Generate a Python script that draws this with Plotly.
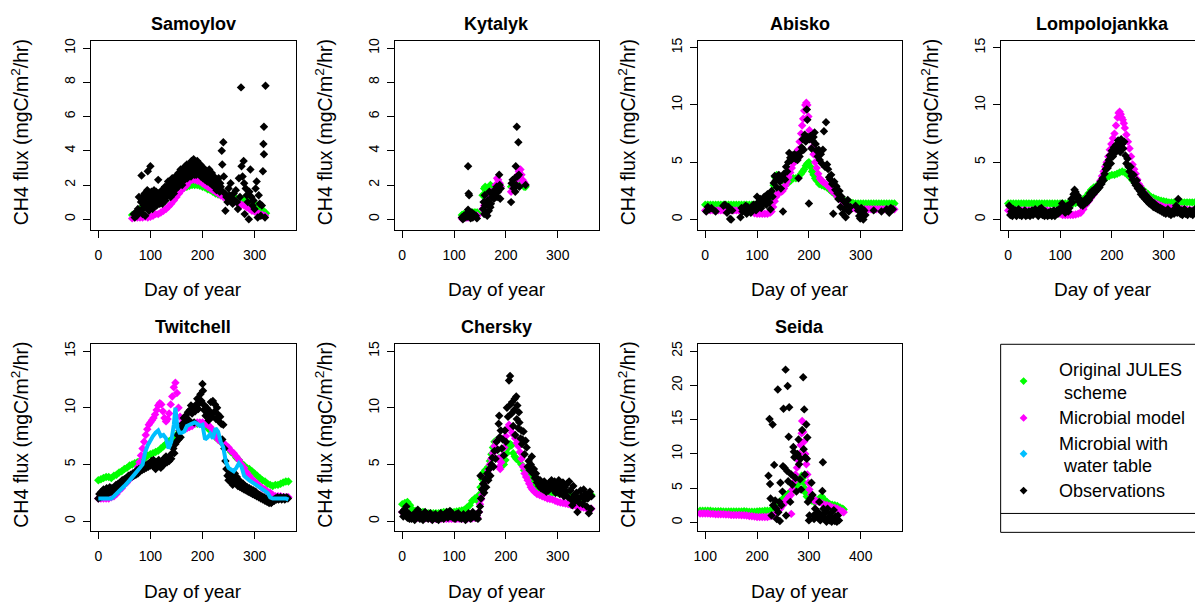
import plotly.graph_objects as go

W, H = 1195, 602
FONT = "Liberation Sans, Arial, Helvetica, sans-serif"
GREEN = "#00FF00"
MAG = "#FF00FF"
BLUE = "#00BFFF"
BLACK = "#000000"

# ---------------- data (day of year, CH4 flux) ----------------
sam_green = [(65,0.25),(70,0.3),(75,0.45),(80,0.6),(85,0.7),(90,0.8),(95,0.9),(100,1.0),(105,1.05),(110,1.1),(115,1.15),(120,1.2),(125,1.3),(130,1.4),(135,1.5),(140,1.55),(145,1.6),(150,1.65),(155,1.7),(160,1.8),(165,1.85),(170,1.9),(175,1.95),(180,2.0),(185,2.0),(190,2.0),(195,1.95),(200,1.9),(205,1.85),(210,1.75),(215,1.7),(220,1.6),(225,1.5),(230,1.45),(235,1.4),(240,1.35),(245,1.3),(250,1.3),(255,1.25),(260,1.2),(265,1.2),(270,1.2),(275,1.2),(280,1.15),(285,1.1),(290,1.05),(295,1.0),(300,0.9),(305,0.8),(310,0.7),(315,0.55),(320,0.4),(322,0.35)]
sam_mag = [(65,0.05),(70,0.1),(75,0.1),(80,0.1),(85,0.1),(90,0.15),(95,0.1),(100,0.15),(105,0.2),(110,0.3),(115,0.3),(120,0.4),(125,0.5),(130,0.6),(135,0.75),(140,0.9),(145,1.1),(150,1.3),(155,1.5),(160,1.7),(165,1.85),(170,2.0),(175,2.2),(180,2.3),(185,2.3),(190,2.25),(195,2.2),(200,2.1),(205,2.0),(210,1.9),(215,1.8),(220,1.7),(225,1.6),(230,1.5),(235,1.4),(240,1.3),(245,1.25),(250,1.2),(255,1.1),(260,1.05),(265,1.0),(270,0.9),(275,0.85),(280,0.8),(285,0.7),(290,0.6),(295,0.5),(300,0.45),(305,0.4),(310,0.3),(315,0.25),(320,0.2)]
sam_obs = [(68,0.3),(70,0.1),(72,0.4),(74,0.2),(76,0.6),(78,1.3),(80,0.5),(82,1.0),(83,2.55),(84,1.1),(85,0.3),(86,0.6),(87,0.8),(88,1.4),(89,1.5),(90,0.2),(91,1.2),(92,0.9),(93,0.7),(94,1.7),(95,2.8),(96,1.6),(97,0.5),(98,1.3),(99,1.0),(100,3.1),(101,0.8),(102,1.6),(103,1.4),(104,0.6),(105,1.0),(106,1.2),(107,1.7),(108,0.9),(109,1.1),(110,1.4),(111,1.6),(112,0.8),(113,1.0),(114,1.3),(115,2.3),(116,1.5),(117,1.2),(118,0.9),(119,1.0),(120,1.3),(121,1.5),(122,1.7),(123,0.9),(124,1.1),(125,1.7),(126,1.5),(127,1.3),(128,1.9),(129,1.1),(130,1.3),(131,1.8),(132,1.6),(133,1.4),(134,2.2),(135,2.0),(136,1.5),(137,1.6),(138,1.9),(139,1.3),(140,1.6),(141,2.1),(142,2.4),(143,1.8),(144,1.9),(145,1.5),(146,2.0),(147,2.2),(148,2.5),(149,2.0),(150,1.8),(151,2.4),(152,2.2),(153,1.9),(154,2.7),(155,2.6),(156,2.1),(157,2.2),(158,2.9),(159,2.4),(160,2.3),(161,2.0),(162,2.6),(163,2.8),(164,3.0),(165,2.5),(166,2.3),(167,3.1),(168,2.9),(169,2.7),(170,3.2),(171,2.4),(172,2.6),(173,3.0),(174,2.8),(175,2.6),(176,3.2),(177,2.9),(178,2.5),(179,3.4),(180,3.0),(181,2.8),(182,3.3),(183,3.5),(184,2.8),(185,2.6),(186,3.1),(187,3.3),(188,2.6),(189,2.9),(190,3.4),(191,3.2),(192,2.9),(193,2.7),(194,2.6),(195,3.0),(196,3.2),(197,2.5),(198,2.9),(199,2.8),(200,2.6),(201,2.4),(202,3.0),(203,2.7),(204,2.5),(205,2.3),(206,2.8),(207,2.6),(208,2.4),(209,2.2),(210,2.7),(211,2.5),(212,2.3),(213,2.9),(214,2.6),(215,2.1),(216,2.2),(217,2.4),(218,2.7),(219,2.0),(220,2.1),(221,2.3),(222,2.5),(223,1.9),(224,2.0),(225,2.1),(226,2.3),(227,1.7),(228,1.9),(229,2.0),(230,2.2),(231,2.4),(232,1.8),(233,1.6),(234,2.1),(235,1.9),(236,1.7),(237,4.0),(238,3.2),(240,4.5),(241,2.5),(243,1.5),(244,0.5),(246,1.3),(248,1.0),(250,1.8),(252,1.4),(254,2.1),(256,1.2),(258,0.9),(260,1.5),(262,1.1),(264,1.7),(266,1.0),(268,0.6),(270,2.4),(272,1.3),(274,7.7),(275,3.1),(277,2.5),(279,3.4),(280,2.1),(281,0.3),(283,1.8),(285,1.4),(287,1.0),(289,0.0),(290,1.6),(292,2.9),(294,1.3),(296,0.8),(298,1.1),(300,0.6),(302,1.8),(304,2.2),(306,0.1),(308,1.4),(310,0.9),(312,0.2),(314,0.8),(316,2.8),(317,4.4),(318,5.4),(318,3.8),(320,0.1),(321,7.8)]

kyt_green = [(115,0.25),(118,0.3),(121,0.3),(124,0.3),(127,0.35),(130,0.35),(133,0.35),(136,0.4),(139,0.4),(142,0.4),(145,0.4),(155,1.4),(158,1.8),(160,1.9),(163,1.7),(165,1.6),(168,1.9),(170,2.0),(173,1.9),(175,1.8),(178,1.7),(180,1.6),(183,1.8),(185,1.9),(188,1.9),(190,1.9),(210,1.9),(213,2.0),(215,2.0),(218,2.1),(220,2.1),(223,2.3),(225,2.4),(228,2.3),(230,2.2),(233,2.0),(235,1.9),(238,1.9)]
kyt_mag = [(115,0.05),(118,0.1),(121,0.1),(124,0.1),(127,0.1),(130,0.15),(133,0.15),(136,0.15),(139,0.2),(142,0.2),(145,0.2),(155,0.6),(158,0.8),(160,0.9),(163,1.1),(165,1.2),(168,1.4),(170,1.6),(173,1.5),(175,1.4),(178,1.7),(180,2.0),(183,2.4),(185,2.3),(188,2.1),(190,1.9),(210,1.6),(213,1.8),(215,2.0),(218,2.2),(220,2.4),(223,2.6),(225,2.8),(228,2.9),(230,2.6),(232,2.3),(234,2.2),(236,2.1)]
kyt_obs = [(115,0.1),(117,0.0),(119,0.2),(121,0.1),(123,0.3),(125,0.15),(127,3.1),(128,1.5),(129,1.4),(127,0.55),(130,0.2),(132,0.05),(134,0.4),(136,0.1),(138,0.3),(142,0.2),(144,0.05),(156,0.6),(157,1.0),(158,0.3),(159,1.4),(160,0.8),(162,0.4),(164,0.2),(165,1.1),(167,0.5),(168,1.6),(170,0.7),(171,0.9),(173,1.3),(175,1.5),(177,1.2),(178,1.7),(180,1.4),(182,1.9),(183,1.3),(185,1.6),(187,2.6),(188,2.0),(189,1.2),(190,1.8),(210,1.0),(211,2.1),(213,2.3),(215,1.8),(217,2.4),(218,1.6),(219,3.1),(220,2.0),(221,5.4),(222,2.5),(224,4.5),(225,2.6),(226,1.9),(238,2.0)]

abi_green = [(0,1.3),(5,1.3),(10,1.3),(15,1.3),(20,1.3),(25,1.3),(30,1.3),(35,1.3),(40,1.3),(45,1.3),(50,1.3),(55,1.3),(60,1.3),(65,1.3),(70,1.3),(75,1.3),(80,1.3),(85,1.3),(90,1.3),(95,1.3),(100,1.35),(105,1.35),(110,1.4),(115,1.45),(120,1.5),(123,1.6),(126,1.9),(129,2.4),(132,3.0),(135,3.7),(138,3.9),(141,3.8),(144,3.6),(147,3.5),(150,3.4),(155,3.3),(160,3.2),(165,3.4),(170,3.6),(175,3.6),(180,3.7),(185,4.0),(188,4.2),(191,4.4),(194,4.7),(197,4.9),(200,5.0),(203,4.6),(206,4.2),(209,3.9),(212,3.6),(215,3.4),(220,3.1),(225,3.0),(230,2.9),(235,2.8),(240,2.6),(245,2.4),(250,2.2),(255,2.0),(260,1.9),(265,1.7),(270,1.6),(275,1.5),(280,1.5),(285,1.45),(290,1.4),(295,1.4),(300,1.4),(305,1.4),(310,1.4),(315,1.4),(320,1.4),(325,1.4),(330,1.4),(335,1.4),(340,1.4),(345,1.4),(350,1.4),(355,1.4),(360,1.4),(365,1.4)]
abi_mag = [(0,0.8),(5,0.8),(10,0.8),(15,0.8),(20,0.8),(25,0.8),(30,0.8),(35,0.8),(40,0.8),(45,0.8),(50,0.8),(55,0.8),(60,0.8),(65,0.8),(70,0.8),(75,0.8),(80,0.8),(85,0.8),(90,0.75),(95,0.55),(100,0.5),(105,0.5),(110,0.5),(115,0.5),(120,0.5),(125,0.6),(128,0.7),(131,1.1),(134,1.6),(137,2.0),(140,2.3),(143,2.4),(146,2.4),(149,2.5),(152,2.7),(155,3.0),(158,3.3),(161,3.7),(164,4.1),(167,4.5),(170,4.9),(173,5.3),(176,5.7),(179,6.1),(182,6.8),(185,7.5),(187,8.2),(189,8.8),(191,9.5),(193,10.0),(195,10.2),(197,10.0),(199,9.0),(201,7.8),(203,7.0),(206,6.3),(209,5.7),(212,5.0),(215,4.5),(218,4.0),(221,3.6),(224,3.4),(227,3.3),(230,3.2),(235,3.0),(240,2.8),(245,2.5),(250,2.3),(255,2.0),(260,1.8),(265,1.6),(270,1.4),(275,1.2),(280,1.1),(285,1.0),(290,0.95),(295,0.9),(300,0.9),(305,0.9),(310,0.9),(315,0.9),(320,0.9),(325,0.9),(330,0.9),(335,0.9),(340,0.9),(345,0.9),(350,0.9),(355,0.9),(360,0.9),(365,0.9)]
abi_obs = [(2,0.7),(5,1.1),(8,0.9),(12,1.0),(20,0.7),(35,1.2),(38,1.3),(42,0.6),(45,1.1),(48,0.05),(50,0.0),(52,0.8),(68,0.2),(70,1.0),(72,0.7),(75,0.9),(78,1.2),(80,0.5),(82,1.1),(85,0.9),(88,0.6),(90,1.0),(93,1.3),(96,1.2),(98,0.8),(100,2.0),(102,1.5),(104,1.2),(106,1.8),(108,1.0),(110,1.6),(112,1.4),(114,2.0),(116,1.7),(118,1.3),(120,2.2),(122,1.9),(124,1.5),(126,0.9),(128,2.5),(130,2.0),(132,3.2),(134,3.8),(136,3.4),(138,2.8),(140,3.6),(142,3.9),(144,3.3),(146,2.7),(148,3.7),(150,0.7),(152,4.0),(154,3.5),(156,4.6),(158,4.2),(160,5.0),(162,5.8),(164,5.4),(166,5.2),(168,5.6),(170,5.4),(172,5.7),(174,5.3),(176,5.6),(178,5.2),(180,3.6),(182,5.5),(184,5.9),(186,6.3),(188,7.0),(190,6.1),(192,7.4),(194,6.8),(196,9.6),(197,8.7),(198,7.2),(200,1.4),(201,7.0),(203,7.3),(205,6.2),(207,6.9),(209,7.2),(211,7.6),(213,6.6),(215,6.0),(217,5.5),(219,6.1),(221,5.2),(223,5.7),(225,4.9),(227,6.1),(229,7.7),(231,4.6),(233,8.5),(235,4.8),(237,4.4),(239,3.7),(241,3.5),(243,3.9),(245,3.1),(247,0.5),(249,3.3),(251,2.6),(253,2.9),(255,2.3),(257,1.8),(259,2.5),(261,1.1),(263,2.0),(265,0.5),(267,1.6),(269,0.9),(271,0.2),(273,1.3),(275,1.7),(277,0.7),(280,1.1),(290,1.2),(295,0.8),(297,0.3),(299,0.1),(301,1.0),(303,0.6),(305,0.0),(307,0.8),(309,0.4),(325,0.8),(340,0.7),(350,0.9),(355,0.6),(358,1.0),(362,0.9)]

lom_green = [(0,1.4),(5,1.4),(10,1.4),(15,1.4),(20,1.4),(25,1.4),(30,1.4),(35,1.4),(40,1.4),(45,1.4),(50,1.4),(55,1.4),(60,1.4),(65,1.4),(70,1.4),(75,1.4),(80,1.4),(85,1.4),(90,1.4),(95,1.4),(100,1.4),(105,1.4),(110,1.4),(115,1.4),(120,1.4),(125,1.4),(130,1.45),(135,1.5),(140,1.6),(145,1.8),(150,2.0),(155,2.3),(160,2.6),(165,2.8),(170,2.9),(175,3.1),(180,3.3),(185,3.5),(190,3.7),(195,3.8),(200,3.9),(205,3.9),(210,4.0),(215,4.1),(220,4.2),(225,4.1),(230,3.9),(235,3.7),(240,3.4),(245,3.2),(250,3.0),(255,2.8),(260,2.6),(265,2.4),(270,2.2),(275,2.0),(280,1.9),(285,1.8),(290,1.7),(295,1.65),(300,1.6),(305,1.55),(310,1.5),(315,1.5),(320,1.5),(325,1.5),(330,1.5),(335,1.5),(340,1.5),(345,1.5),(350,1.5),(355,1.5),(360,1.5),(365,1.5)]
lom_mag = [(0,0.8),(5,0.8),(10,0.8),(15,0.8),(20,0.8),(25,0.8),(30,0.8),(35,0.8),(40,0.8),(45,0.8),(50,0.8),(55,0.8),(60,0.8),(65,0.8),(70,0.8),(75,0.8),(80,0.75),(85,0.7),(90,0.7),(95,0.6),(100,0.5),(105,0.4),(110,0.4),(115,0.4),(120,0.4),(125,0.4),(130,0.45),(135,0.5),(140,0.6),(145,0.9),(150,1.3),(155,1.6),(160,1.9),(165,2.2),(170,2.6),(175,3.0),(178,3.4),(181,3.8),(184,4.2),(187,4.6),(190,5.0),(193,5.5),(196,6.1),(199,6.6),(202,7.1),(205,7.5),(208,8.2),(211,8.9),(213,9.3),(215,9.4),(217,9.2),(219,8.9),(221,8.7),(223,8.4),(225,8.0),(228,7.4),(231,6.8),(234,6.2),(237,5.5),(240,4.8),(243,4.4),(246,4.0),(249,3.5),(252,3.1),(255,2.9),(260,2.5),(265,2.2),(270,1.9),(275,1.7),(280,1.5),(285,1.4),(290,1.3),(295,1.2),(300,1.1),(305,1.05),(310,1.05),(315,1.0),(320,1.0),(325,0.95),(330,0.95),(335,0.9),(340,0.9),(345,0.85),(350,0.85),(355,0.8),(360,0.8),(365,0.8)]
lom_obs = [(2,1.2),(4,0.4),(6,0.7),(8,0.3),(10,0.9),(12,0.5),(14,0.8),(16,0.3),(18,0.6),(20,0.9),(22,0.4),(24,0.7),(26,0.3),(28,0.6),(30,0.5),(32,0.8),(34,0.3),(36,0.6),(38,0.4),(40,0.7),(42,0.3),(44,0.5),(46,0.8),(48,0.4),(50,0.6),(52,0.9),(54,0.5),(56,0.7),(58,0.3),(60,0.9),(62,0.6),(64,1.0),(66,0.4),(68,0.6),(70,0.3),(72,0.7),(74,0.5),(76,0.3),(78,0.6),(80,0.4),(82,0.7),(84,0.3),(86,0.5),(88,0.8),(90,0.3),(92,0.6),(94,0.8),(96,0.5),(98,0.9),(100,0.7),(102,1.0),(104,1.4),(106,0.8),(108,1.1),(110,0.6),(112,0.9),(114,1.2),(116,0.7),(118,1.0),(120,1.4),(122,1.8),(124,1.5),(126,2.2),(128,2.6),(130,2.4),(132,1.9),(134,2.1),(136,1.6),(138,1.8),(140,1.3),(142,1.5),(144,1.2),(146,1.6),(148,1.4),(150,1.8),(152,1.5),(154,2.0),(156,1.7),(158,2.3),(160,2.0),(162,2.5),(164,2.2),(166,2.6),(168,2.4),(170,2.8),(172,2.6),(174,3.0),(176,2.8),(178,3.3),(180,3.1),(182,3.6),(184,3.4),(186,4.0),(188,4.4),(190,4.8),(192,4.5),(194,5.2),(196,5.6),(198,4.9),(200,6.0),(202,5.5),(204,6.3),(206,5.8),(208,6.5),(210,6.1),(212,6.9),(214,6.4),(216,5.9),(218,7.0),(220,6.6),(222,6.2),(224,6.8),(226,5.6),(228,4.9),(230,5.3),(232,4.6),(234,4.2),(236,4.6),(238,3.8),(240,3.5),(242,3.9),(244,3.2),(246,3.0),(248,3.4),(250,2.7),(252,2.9),(254,2.5),(256,2.2),(258,2.6),(260,2.0),(262,2.3),(264,1.8),(266,2.1),(268,1.6),(270,1.9),(272,1.4),(274,1.7),(276,1.3),(278,1.5),(280,1.1),(282,1.4),(284,1.0),(286,1.2),(288,0.9),(290,1.1),(292,0.8),(294,1.0),(296,0.7),(298,0.9),(300,0.6),(302,0.8),(304,0.5),(306,0.7),(308,0.9),(310,0.5),(312,0.7),(314,0.4),(316,0.6),(318,0.8),(320,0.5),(322,0.7),(324,1.2),(326,0.6),(328,1.8),(330,0.9),(332,0.5),(334,0.8),(336,0.4),(338,0.7),(340,0.9),(342,0.5),(344,0.7),(346,0.4),(348,0.6),(350,0.8),(352,0.5),(354,0.7),(356,0.4),(358,0.6),(360,0.9),(362,0.5),(364,0.7)]

twi_green = [(0,3.6),(5,3.7),(10,3.8),(15,3.9),(20,3.9),(25,3.8),(30,4.0),(35,4.1),(40,4.3),(45,4.4),(50,4.6),(55,4.7),(60,4.9),(65,5.0),(70,5.1),(75,5.2),(80,5.3),(85,5.4),(90,5.6),(95,5.8),(100,5.9),(105,6.0),(110,6.1),(115,6.2),(120,6.4),(125,6.6),(130,6.8),(135,7.0),(140,7.2),(145,7.4),(150,7.6),(155,7.8),(160,8.0),(165,8.2),(170,8.4),(175,8.5),(180,8.6),(185,8.6),(190,8.6),(195,8.6),(200,8.5),(205,8.4),(210,8.2),(215,8.0),(220,7.7),(225,7.4),(230,7.2),(235,7.0),(240,6.8),(245,6.6),(250,6.4),(255,6.1),(260,5.9),(265,5.6),(270,5.4),(275,5.1),(280,4.9),(285,4.7),(290,4.6),(295,4.4),(300,4.2),(305,4.0),(310,3.8),(315,3.6),(320,3.5),(325,3.3),(330,3.2),(335,3.1),(340,3.2),(345,3.2),(350,3.3),(355,3.4),(360,3.5),(365,3.5)]
twi_mag = [(0,2.0),(5,2.0),(10,2.0),(15,2.0),(20,2.0),(25,2.1),(30,2.2),(35,2.4),(40,2.7),(45,2.9),(50,3.2),(55,3.4),(60,3.7),(65,3.9),(70,4.2),(73,4.4),(76,4.8),(79,5.2),(82,5.8),(85,6.4),(88,7.0),(91,7.6),(94,8.1),(97,8.5),(100,8.7),(103,8.9),(106,9.1),(109,9.4),(112,9.8),(115,10.2),(118,10.4),(121,10.3),(124,9.7),(127,9.1),(130,8.8),(133,9.0),(136,9.5),(139,10.3),(142,11.0),(145,11.8),(148,12.2),(151,11.3),(154,10.0),(157,9.2),(160,8.6),(165,8.3),(170,8.2),(175,8.3),(180,8.4),(185,8.6),(190,8.7),(195,8.7),(200,8.7),(205,8.6),(210,8.5),(215,8.3),(220,8.0),(225,7.6),(230,7.2),(235,7.0),(240,6.9),(245,6.7),(250,6.5),(255,6.2),(260,6.0),(265,5.7),(270,5.4),(275,5.0),(280,4.7),(285,4.3),(290,4.0),(295,3.7),(300,3.5),(305,3.3),(310,3.1),(315,2.9),(320,2.8),(325,2.6),(330,2.5),(335,2.3),(340,2.2),(345,2.2),(350,2.2),(355,2.1),(360,2.1),(365,2.1)]
twi_blue = [(0,2.0),(10,2.0),(20,2.0),(25,2.0),(30,2.2),(40,2.6),(50,3.1),(60,3.6),(70,4.1),(80,4.7),(85,5.0),(90,6.1),(95,6.7),(100,7.2),(105,7.5),(110,7.8),(115,8.0),(120,7.5),(125,7.6),(130,7.3),(135,6.4),(140,7.0),(145,8.5),(148,10.0),(152,8.2),(156,7.8),(160,7.8),(165,7.9),(170,8.4),(175,8.5),(180,8.6),(185,8.7),(190,8.6),(195,8.4),(200,8.5),(205,7.2),(210,7.4),(215,7.7),(220,7.3),(225,8.2),(230,7.9),(235,7.0),(240,6.5),(245,5.2),(250,4.7),(255,4.5),(260,4.4),(265,4.7),(270,5.1),(275,4.8),(280,4.0),(290,3.6),(300,3.3),(310,3.0),(320,2.6),(325,2.5),(330,2.1),(335,2.0),(340,2.0),(350,2.0),(360,2.0),(365,1.9)]
twi_obs = [(0,2.0),(2,2.4),(4,2.1),(6,2.6),(8,2.2),(10,2.8),(12,2.3),(14,2.5),(16,2.9),(18,2.4),(20,2.7),(22,3.0),(24,2.6),(26,2.9),(28,2.5),(30,2.8),(32,3.0),(34,3.2),(36,2.9),(38,3.3),(40,3.1),(42,3.4),(44,3.2),(46,3.6),(48,3.3),(50,3.7),(52,3.5),(54,3.8),(56,3.6),(58,4.0),(60,3.8),(62,4.1),(64,3.9),(66,4.2),(68,4.0),(70,4.3),(72,4.1),(74,4.5),(76,4.2),(78,4.6),(80,4.4),(82,4.7),(84,4.5),(86,4.8),(88,4.6),(90,4.9),(92,4.7),(94,5.0),(96,4.8),(98,5.1),(100,4.9),(102,5.3),(104,4.9),(106,5.4),(108,5.0),(110,4.6),(112,5.2),(114,4.8),(116,5.4),(118,5.0),(120,4.7),(122,5.3),(124,4.9),(126,5.5),(128,5.1),(130,5.7),(132,5.2),(134,5.6),(136,5.3),(138,5.8),(140,5.5),(142,6.0),(144,6.4),(146,6.0),(148,6.8),(150,7.0),(152,7.6),(154,7.2),(156,8.0),(158,7.4),(160,8.3),(162,8.6),(164,9.1),(166,8.5),(168,9.3),(170,8.8),(172,9.6),(174,8.9),(176,9.8),(178,10.2),(180,9.5),(182,10.0),(184,8.7),(186,9.7),(188,10.3),(190,10.8),(192,9.9),(194,10.4),(196,11.2),(198,10.6),(200,12.1),(201,11.5),(203,9.8),(204,10.2),(206,9.3),(208,10.0),(210,9.5),(212,8.9),(214,9.7),(216,10.5),(218,9.2),(220,10.6),(222,9.6),(224,10.3),(226,9.0),(228,10.0),(230,9.4),(232,8.8),(234,9.2),(236,8.6),(238,7.2),(240,8.5),(242,6.4),(244,5.3),(246,4.6),(248,4.0),(250,3.6),(252,4.2),(254,3.5),(256,3.9),(258,3.2),(260,3.7),(262,4.2),(264,3.4),(266,3.9),(268,3.1),(270,3.6),(272,3.0),(274,3.4),(276,2.9),(278,3.3),(280,2.8),(282,3.1),(284,2.7),(286,3.0),(288,2.6),(290,2.9),(292,2.5),(294,2.8),(296,2.4),(298,2.7),(300,2.3),(302,2.6),(304,2.2),(306,2.4),(308,2.1),(310,2.3),(312,2.0),(314,2.2),(316,1.9),(318,2.1),(320,1.8),(322,2.0),(324,1.7),(326,1.9),(328,1.6),(330,1.8),(332,1.6),(334,1.7),(336,1.9),(338,1.8),(340,2.0),(342,1.9),(344,2.1),(346,1.9),(348,2.0),(350,2.1),(352,1.9),(354,2.0),(356,2.1),(358,1.9),(360,2.0),(362,2.1),(364,2.0)]

che_green = [(0,1.5),(5,1.6),(10,1.7),(15,1.4),(20,1.0),(25,0.9),(30,0.8),(35,0.8),(40,0.8),(45,0.75),(50,0.7),(55,0.7),(60,0.7),(65,0.7),(70,0.7),(75,0.75),(80,0.8),(85,0.8),(90,0.8),(95,0.8),(100,0.8),(105,0.85),(110,0.9),(115,0.95),(120,1.0),(125,1.2),(130,1.4),(135,1.8),(140,2.0),(145,1.8),(148,2.3),(151,3.0),(154,3.7),(157,4.3),(160,4.5),(163,4.5),(166,4.8),(169,5.3),(172,5.9),(175,6.5),(178,7.0),(181,7.1),(184,6.3),(187,5.6),(190,5.3),(193,5.1),(196,5.0),(199,5.4),(202,6.0),(205,6.5),(208,6.8),(211,6.7),(214,6.0),(217,5.7),(220,5.5),(225,5.3),(230,5.0),(235,4.5),(240,4.3),(245,4.0),(250,3.5),(255,3.2),(260,3.0),(265,2.8),(270,2.7),(275,2.65),(280,2.6),(285,2.55),(290,2.5),(295,2.5),(300,2.5),(305,2.45),(310,2.4),(315,2.35),(320,2.3),(325,2.25),(330,2.2),(335,2.1),(340,2.0),(345,2.0),(350,2.0),(355,2.1),(360,2.2),(365,2.3)]
che_mag = [(0,0.8),(5,0.7),(10,0.6),(15,0.5),(20,0.4),(25,0.3),(30,0.3),(35,0.3),(40,0.25),(45,0.25),(50,0.25),(55,0.2),(60,0.2),(65,0.2),(70,0.2),(75,0.2),(80,0.2),(85,0.2),(90,0.2),(95,0.2),(100,0.2),(105,0.2),(110,0.2),(115,0.2),(120,0.2),(125,0.2),(130,0.25),(135,0.25),(140,0.3),(145,0.3),(148,0.8),(150,1.5),(152,1.9),(154,2.3),(156,2.7),(158,3.1),(160,3.5),(163,4.0),(166,4.5),(169,5.0),(172,5.5),(175,6.0),(178,6.6),(181,7.0),(183,6.3),(185,5.5),(187,4.8),(189,4.6),(191,5.2),(194,5.8),(197,6.5),(200,7.5),(203,8.2),(206,8.5),(209,8.2),(212,7.8),(215,7.6),(218,7.3),(221,6.9),(224,6.6),(227,6.1),(230,5.5),(233,4.8),(236,4.2),(239,3.9),(242,3.6),(245,3.3),(248,3.0),(251,2.8),(255,2.6),(260,2.4),(265,2.3),(270,2.2),(275,2.1),(280,2.0),(285,1.95),(290,1.9),(295,1.8),(300,1.7),(305,1.65),(310,1.6),(315,1.55),(320,1.5),(325,1.45),(330,1.4),(335,1.35),(340,1.3),(345,1.25),(350,1.2),(355,1.15),(360,1.1),(365,1.1)]
che_obs = [(0,0.8),(2,0.4),(4,1.0),(6,0.6),(8,1.3),(10,0.3),(12,0.7),(14,0.2),(16,0.5),(18,0.2),(20,0.4),(22,0.6),(24,0.1),(26,0.3),(28,0.8),(30,1.0),(32,0.4),(34,0.2),(36,0.6),(38,0.3),(40,0.1),(42,0.5),(44,0.8),(46,0.3),(48,0.6),(50,0.2),(52,0.4),(54,0.7),(56,0.3),(58,0.1),(60,0.5),(62,0.3),(64,0.6),(66,0.2),(68,0.4),(70,0.1),(72,0.5),(74,0.7),(76,0.3),(78,0.5),(80,0.2),(82,0.6),(84,0.4),(86,0.8),(88,0.3),(90,0.6),(92,0.9),(94,0.4),(96,0.7),(98,0.3),(100,0.5),(102,0.2),(104,0.6),(106,0.4),(108,0.7),(110,0.3),(112,0.5),(114,0.2),(116,0.4),(118,0.6),(120,0.3),(122,0.1),(124,0.5),(126,0.3),(128,0.7),(130,0.4),(132,0.2),(134,0.5),(136,0.8),(138,0.4),(140,0.6),(142,0.3),(144,0.5),(146,0.2),(148,0.8),(150,1.3),(151,4.0),(152,2.0),(154,2.8),(156,3.3),(158,2.5),(160,3.7),(162,3.0),(164,4.2),(166,3.6),(168,4.6),(170,4.0),(172,5.0),(174,5.6),(176,4.8),(178,6.2),(180,5.5),(182,7.0),(184,6.3),(186,8.6),(187,9.3),(188,7.4),(190,8.0),(192,6.4),(194,7.2),(196,5.8),(198,8.0),(200,7.0),(202,10.0),(204,9.2),(206,12.4),(208,12.8),(209,10.3),(211,9.5),(212,10.5),(214,8.4),(216,9.8),(217,10.8),(218,7.6),(220,11.0),(221,9.0),(222,10.2),(224,8.2),(225,9.6),(226,8.7),(228,7.3),(230,8.0),(231,6.8),(232,7.2),(234,7.9),(236,5.9),(238,7.1),(240,6.5),(242,4.8),(244,5.3),(246,4.5),(248,5.0),(250,5.7),(252,4.2),(254,4.6),(256,3.8),(258,4.2),(260,3.4),(262,3.7),(264,3.1),(266,3.6),(268,2.9),(270,3.3),(272,2.8),(274,3.5),(276,3.0),(278,2.6),(280,3.2),(282,2.7),(284,3.4),(286,2.9),(288,3.6),(290,3.1),(292,2.8),(294,3.5),(296,2.5),(298,3.3),(300,2.9),(302,3.6),(304,2.4),(306,3.2),(308,2.8),(310,3.4),(312,2.2),(314,3.0),(316,2.6),(318,3.3),(320,2.1),(322,3.5),(324,2.7),(326,1.9),(328,1.4),(330,3.1),(332,2.3),(334,1.8),(336,2.5),(338,0.8),(340,2.0),(342,1.6),(344,2.7),(346,2.2),(348,1.5),(350,2.8),(352,1.9),(354,2.4),(356,1.3),(358,2.0),(360,0.7),(362,2.6),(364,1.1),(365,2.2)]

sei_green = [(90,1.7),(95,1.7),(100,1.7),(105,1.7),(110,1.7),(115,1.65),(120,1.65),(125,1.65),(130,1.65),(135,1.6),(140,1.6),(145,1.6),(150,1.6),(155,1.6),(160,1.6),(165,1.6),(170,1.6),(175,1.65),(180,1.6),(185,1.55),(190,1.55),(195,1.55),(200,1.6),(205,1.65),(210,1.65),(215,1.7),(220,1.7),(225,1.7),(230,2.0),(235,2.4),(240,2.8),(245,3.1),(250,3.5),(255,3.8),(260,4.2),(265,4.5),(270,4.8),(275,5.3),(278,5.6),(281,6.0),(284,6.5),(286,6.8),(288,6.5),(290,5.8),(292,5.0),(294,4.3),(296,3.8),(300,3.5),(305,3.2),(310,3.0),(315,3.2),(320,3.5),(325,3.8),(330,3.3),(335,3.0),(340,2.7),(345,2.6),(350,2.5),(355,2.4),(360,2.2),(365,2.0),(367,1.9)]
sei_mag = [(90,1.3),(95,1.3),(100,1.3),(105,1.3),(110,1.25),(115,1.25),(120,1.2),(125,1.2),(130,1.2),(135,1.2),(140,1.15),(145,1.15),(150,1.1),(155,1.1),(160,1.1),(165,1.1),(170,1.05),(175,1.05),(180,1.0),(185,0.95),(190,0.9),(195,0.85),(200,0.8),(205,0.8),(210,0.8),(215,0.8),(220,0.8),(225,0.9),(230,1.0),(235,1.2),(240,1.5),(245,2.0),(250,2.5),(253,2.8),(256,3.2),(259,3.5),(262,3.8),(265,4.0),(266,1.25),(268,4.8),(271,5.9),(274,7.0),(277,8.0),(280,9.0),(282,10.0),(284,11.3),(286,13.0),(287,14.8),(289,13.2),(291,11.8),(293,10.0),(295,8.5),(297,7.0),(299,5.8),(301,4.8),(304,4.1),(307,3.6),(310,3.2),(315,3.1),(320,3.0),(325,2.8),(330,2.6),(335,2.5),(340,2.4),(345,2.2),(350,2.1),(355,2.0),(360,1.8),(365,1.6),(367,1.5)]
sei_obs = [(222,6.8),(224,15.1),(225,5.6),(226,3.5),(228,1.0),(230,14.3),(231,2.5),(233,8.4),(235,3.2),(237,2.0),(238,0.5),(240,19.4),(241,1.5),(243,3.0),(244,0.2),(245,5.8),(247,2.5),(249,4.5),(250,8.2),(251,16.6),(253,8.0),(255,22.3),(256,1.0),(258,7.5),(259,19.9),(260,6.0),(261,12.5),(262,16.8),(264,3.0),(266,7.0),(268,5.5),(270,11.0),(271,10.3),(272,9.5),(274,6.5),(276,4.5),(278,10.0),(280,12.1),(281,8.5),(283,6.3),(284,9.3),(285,4.8),(287,13.5),(289,21.2),(290,10.7),(291,16.5),(292,7.0),(293,9.5),(295,14.3),(296,9.3),(297,12.4),(298,3.0),(300,0.3),(301,1.0),(303,3.5),(305,5.8),(307,4.0),(309,1.0),(310,0.5),(312,2.0),(314,1.2),(316,0.8),(318,1.5),(320,3.0),(322,0.3),(324,1.0),(326,4.6),(327,8.8),(328,2.0),(330,0.5),(332,1.5),(334,0.1),(336,2.0),(338,0.8),(340,0.3),(342,1.3),(344,0.1),(346,0.6),(348,1.8),(350,0.2),(352,0.9),(354,0.1),(356,1.0),(358,0.3)]

site_names = ["Samoylov", "Kytalyk", "Abisko", "Lompolojankka", "Twitchell", "Chersky", "Seida"]
site_data = {
    "Samoylov": (sam_green, sam_mag, None, sam_obs),
    "Kytalyk": (kyt_green, kyt_mag, None, kyt_obs),
    "Abisko": (abi_green, abi_mag, None, abi_obs),
    "Lompolojankka": (lom_green, lom_mag, None, lom_obs),
    "Twitchell": (twi_green, twi_mag, twi_blue, twi_obs),
    "Chersky": (che_green, che_mag, None, che_obs),
    "Seida": (sei_green, sei_mag, None, sei_obs),
}
x_ticks = {"Seida": [100, 200, 300, 400]}
y_ticks = {"Samoylov": [0, 2, 4, 6, 8, 10], "Kytalyk": [0, 2, 4, 6, 8, 10], "Seida": [0, 5, 10, 15, 20, 25]}
legend_labels = ["Original JULES<br> scheme", "Microbial model", "Microbial with<br> water table", "Observations"]
legend_colors = [GREEN, MAG, BLUE, BLACK]

# ---------------- layout geometry (pixels) ----------------
boxes = {
    "Samoylov": (87, 293, 38, 228), "Kytalyk": (392, 597, 38, 228),
    "Abisko": (696, 901, 38, 228), "Lompolojankka": (1000, 1205, 38, 228),
    "Twitchell": (87, 293, 343, 531), "Chersky": (392, 597, 343, 531),
    "Seida": (696, 901, 343, 531),
}
x_ranges = {"Seida": [85.4, 479.6]}
y_ranges = {"Samoylov": [-0.62, 10.42], "Kytalyk": [-0.62, 10.42], "Seida": [-1.3, 26.0]}

fig = go.Figure()
layout = dict(width=W, height=H, margin=dict(l=0, r=0, t=0, b=0),
              paper_bgcolor="white", plot_bgcolor="white", showlegend=False,
              font=dict(family=FONT, color="black"))
annotations = []
shapes = []


def px(x):
    return x / W


def py(y):
    return 1 - y / H


MS = 6.5
for i, name in enumerate(site_names, start=1):
    g, m, b, o = site_data[name]
    l, r, t, bt = boxes[name]
    xr = list(x_ranges.get(name, [-14.6, 379.6]))
    xdom_r = r
    if r > W:
        # panel runs past the right edge of the picture
        frac = (W - l) / (r - l)
        xr = [xr[0], xr[0] + (xr[1] - xr[0]) * frac]
        xdom_r = W
    yr = y_ranges.get(name, [-0.9, 15.6])
    xa = "x" if i == 1 else f"x{i}"
    ya = "y" if i == 1 else f"y{i}"
    for series, col in ((g, GREEN), (m, MAG)):
        fig.add_trace(go.Scatter(x=[p[0] for p in series], y=[p[1] for p in series], mode="markers",
                                 marker=dict(symbol="diamond", size=MS, color=col, line=dict(width=0)),
                                 xaxis=xa, yaxis=ya))
    fig.add_trace(go.Scatter(x=[p[0] for p in o], y=[p[1] for p in o], mode="markers",
                             marker=dict(symbol="diamond", size=MS, color=BLACK, line=dict(width=0)),
                             xaxis=xa, yaxis=ya))
    if b is not None:
        fig.add_trace(go.Scatter(x=[p[0] for p in b], y=[p[1] for p in b], mode="lines",
                                 line=dict(color=BLUE, width=4), xaxis=xa, yaxis=ya))
    layout["xaxis" if i == 1 else f"xaxis{i}"] = dict(
        domain=[px(l), px(xdom_r)], range=xr, anchor=ya,
        showline=True, mirror=True, linecolor="black", linewidth=1,
        ticks="outside", ticklen=7, tickcolor="black", tickwidth=1,
        tickvals=x_ticks.get(name, [0, 100, 200, 300]), tickfont=dict(size=14, family=FONT),
        ticklabelstandoff=5, showgrid=False, zeroline=False)
    layout["yaxis" if i == 1 else f"yaxis{i}"] = dict(
        domain=[py(bt), py(t)], range=yr, anchor=xa,
        showline=True, mirror=(r <= W), linecolor="black", linewidth=1,
        ticks="outside", ticklen=7, tickcolor="black", tickwidth=1,
        tickvals=y_ticks.get(name, [0, 5, 10, 15]), tickfont=dict(size=14, family=FONT),
        tickangle=-90, ticklabelstandoff=2, showgrid=False, zeroline=False)
    cx = (l + r) / 2
    annotations.append(dict(text=f"<b>{name}</b>", x=px(cx), y=py(t - 17), xref="paper", yref="paper",
                            showarrow=False, xanchor="center", yanchor="middle", font=dict(size=18, family=FONT)))
    annotations.append(dict(text="Day of year", x=px(cx), y=py(bt + 60), xref="paper", yref="paper",
                            showarrow=False, xanchor="center", yanchor="middle", font=dict(size=19, family=FONT)))
    annotations.append(dict(text="CH4 flux (mgC/m<sup>2</sup>/hr)", x=px(l - 71), y=py((t + bt) / 2 - 3),
                            xref="paper", yref="paper", textangle=-90, showarrow=False,
                            xanchor="center", yanchor="middle", font=dict(size=19.5, family=FONT)))

# ---------------- legend panel ----------------
LL, LT, LB, LLINE = 1000, 343, 532, 513
layout["xaxis8"] = dict(domain=[px(LL), 1], range=[0, W - LL], visible=False, fixedrange=True)
layout["yaxis8"] = dict(domain=[py(LB), py(LT)], range=[LB - LT, 0], visible=False, anchor="x8")
leg_marker_y = [37, 74, 110, 147]
leg_text_y = [[26, 49], [74], [100, 122], [147]]
for lab, col, my, ty in zip(legend_labels, legend_colors, leg_marker_y, leg_text_y):
    fig.add_trace(go.Scatter(x=[23], y=[my], mode="markers", xaxis="x8", yaxis="y8",
                             marker=dict(symbol="diamond", size=6, color=col, line=dict(width=0))))
    parts = lab.split("<br>")
    for part, yy in zip(parts, ty):
        annotations.append(dict(text=part.replace(" ", "&nbsp;", 1) if part.startswith(" ") else part,
                                x=57, y=yy, xref="x8", yref="y8", showarrow=False,
                                xanchor="left", yanchor="middle", font=dict(size=18, family=FONT)))
shapes.append(dict(type="rect", xref="paper", yref="paper", x0=px(LL), x1=px(W + 10),
                   y0=py(LB), y1=py(LT), line=dict(color="black", width=1)))
shapes.append(dict(type="line", xref="paper", yref="paper", x0=px(LL), x1=px(W + 10),
                   y0=py(LLINE), y1=py(LLINE), line=dict(color="black", width=1)))

layout["annotations"] = annotations
layout["shapes"] = shapes
fig.update_layout(**layout)
fig.write_html("out.html")
